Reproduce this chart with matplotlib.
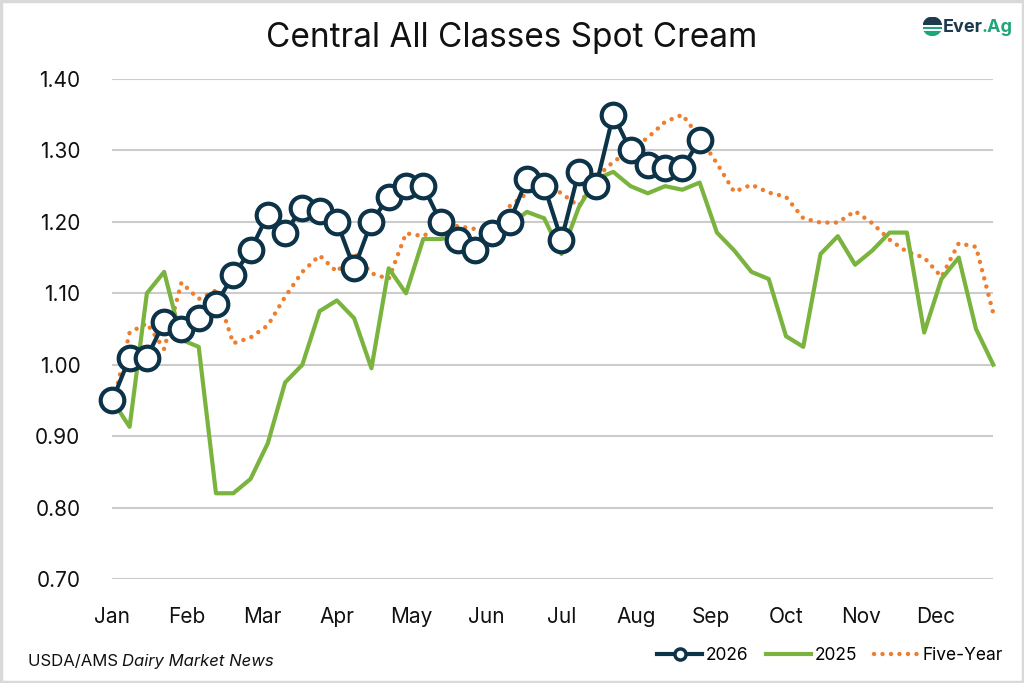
import numpy as np
import matplotlib.pyplot as plt
from matplotlib.patches import Rectangle, Wedge
from matplotlib.lines import Line2D

plt.rcParams['font.family'] = ['Inter', 'DejaVu Sans']

# weekly values, week 0 = first week of Jan
y2026 = [0.95, 1.01, 1.01, 1.06, 1.05, 1.065, 1.085, 1.125, 1.16, 1.21,
         1.185, 1.22, 1.215, 1.20, 1.135, 1.20, 1.235, 1.25, 1.25, 1.20,
         1.175, 1.16, 1.185, 1.20, 1.26, 1.25, 1.175, 1.27, 1.25, 1.35,
         1.30, 1.28, 1.275, 1.275, 1.315]
y2025 = [0.95, 0.913, 1.10, 1.13, 1.035, 1.025, 0.82, 0.82, 0.84, 0.89,
         0.975, 1.00, 1.075, 1.09, 1.065, 0.995, 1.135, 1.10, 1.176, 1.176,
         1.18, 1.145, 1.186, 1.196, 1.214, 1.205, 1.155, 1.22, 1.26, 1.27,
         1.25, 1.24, 1.25, 1.245, 1.255, 1.185, 1.16, 1.13, 1.12, 1.04,
         1.025, 1.155, 1.18, 1.14, 1.16, 1.185, 1.185, 1.045, 1.12, 1.15,
         1.05, 1.00]
five_year = [0.94, 1.045, 1.058, 1.022, 1.115, 1.092, 1.104, 1.03, 1.038, 1.055,
             1.095, 1.13, 1.153, 1.13, 1.157, 1.128, 1.12, 1.184, 1.18, 1.195,
             1.194, 1.19, 1.185, 1.222, 1.24, 1.254, 1.24, 1.222, 1.262, 1.284,
             1.30, 1.318, 1.34, 1.35, 1.318, 1.282, 1.242, 1.252, 1.241, 1.235,
             1.205, 1.199, 1.199, 1.215, 1.198, 1.175, 1.158, 1.15, 1.123, 1.17,
             1.165, 1.072]
months = ['Jan', 'Feb', 'Mar', 'Apr', 'May', 'Jun', 'Jul', 'Aug', 'Sep', 'Oct', 'Nov', 'Dec']

navy = '#0D3349'
green = '#7AB33E'
orange = '#EE7D2D'
dots = (0, (0.01, 1.9))

fig = plt.figure(figsize=(10.24, 6.83), dpi=100)
ax = fig.add_axes([0.1097, 0.1523, 0.8603, 0.732])

ax.plot(np.arange(len(five_year)), five_year, color=orange, lw=3.2,
        linestyle=dots, dash_capstyle='round', zorder=2, clip_on=False)
ax.plot(np.arange(len(y2025)), y2025, color=green, lw=3, zorder=3, clip_on=False)
ax.plot(np.arange(len(y2026)), y2026, color=navy, lw=3, marker='o', ms=17,
        mfc='white', mec=navy, mew=3, zorder=4, clip_on=False)

ax.set_xlim(0, 51)
ax.set_ylim(0.70, 1.40)
ax.set_yticks(np.arange(0.70, 1.401, 0.10))
ax.yaxis.set_major_formatter(plt.FuncFormatter(lambda v, p: f'{v:.2f}'))
ax.set_xticks(np.arange(12) * 52 / 12)
ax.set_xticklabels(months)
ax.tick_params(axis='both', length=0, labelsize=15, colors='#111111')
ax.tick_params(axis='y', pad=23)
ax.tick_params(axis='x', pad=20)
ax.grid(axis='y', color='#cccccc', lw=1.5)
ax.set_axisbelow(True)
for s in ax.spines.values():
    s.set_visible(False)

fig.text(0.5, 0.945, 'Central All Classes Spot Cream', ha='center', va='center',
         fontsize=24, color='#111111')

# logo
lax = fig.add_axes([0.9015, 0.948, 0.018, 0.027])
lax.set_aspect('equal')
lax.set_xlim(-1, 1)
lax.set_ylim(-1, 1)
lax.axis('off')
lax.add_patch(Wedge((0, 0), 1, 0, 180, color='#1d3b4d'))
lax.add_patch(Wedge((0, 0), 1, 180, 360, color='#1fa57a'))
for yy in (0.05, -0.45):
    lax.plot([-1, 1], [yy, yy], color='white', lw=1.4)
t1 = fig.text(0.921, 0.960, 'Ever', ha='left', va='center', fontsize=13,
              fontweight='bold', color='#1d3b4d')
fig.canvas.draw()
w = t1.get_window_extent().width - 1.5
fig.text(0.921 + w / fig.bbox.width, 0.960, '.Ag', ha='left', va='center',
         fontsize=13, fontweight='bold', color='#1fa57a')

# source
s1 = fig.text(0.027, 0.032, 'USDA/AMS\u00a0', ha='left', va='center', fontsize=12,
              color='#111111')
w = s1.get_window_extent().width
fig.text(0.027 + w / fig.bbox.width, 0.032, 'Dairy Market News', ha='left',
         va='center', fontsize=12, style='italic', color='#111111')

handles = [
    Line2D([], [], color=navy, lw=3, marker='o', ms=8, mfc='white', mec=navy, mew=2.5),
    Line2D([], [], color=green, lw=3),
    Line2D([], [], color=orange, lw=3.2, linestyle=dots, dash_capstyle='round'),
]
fig.legend(handles, ['2026', '2025', 'Five-Year'], loc='center right',
           bbox_to_anchor=(0.995, 0.04), ncol=3, frameon=False, fontsize=12.5,
           handlelength=2.6, handletextpad=0.2, columnspacing=1.0)

fig.patches.append(Rectangle((0.001, 0.001), 0.998, 0.997, transform=fig.transFigure,
                             fill=False, edgecolor='#d9d9d9', lw=2.5))

fig.savefig('out.png', dpi=100)
